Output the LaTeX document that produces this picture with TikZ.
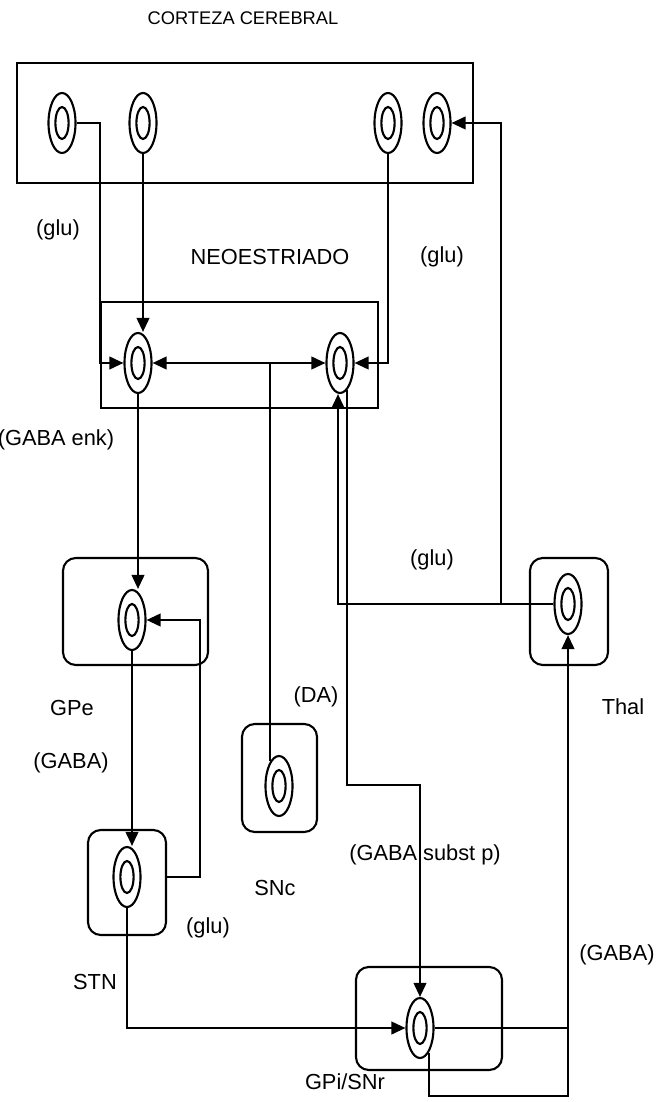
\documentclass[tikz,border=0pt]{standalone}
\usepackage{fontspec}
\setmainfont{Liberation Sans}
\usepackage{tikz}
\usetikzlibrary{positioning, arrows.meta, calc, shapes.geometric}
\tikzset{
  neurona/.style={ellipse, draw, line width=1.5pt, inner sep=0pt, minimum width=0.675cm, minimum height=1.5cm,
    path picture={\draw[line width=1.5pt] (path picture bounding box.center) ellipse (0.165cm and 0.4cm);}},
  nucleo/.style={draw, line width=1.5pt, rounded corners=0.32cm, inner sep=0pt},
  caja/.style={draw, line width=1.5pt, inner sep=0pt},
  linea/.style={line width=1.5pt},
  axon/.style={line width=1.5pt, -{Triangle[length=10pt,width=9pt]}},
  axondoble/.style={line width=1.5pt, {Triangle[length=10pt,width=9pt]}-{Triangle[length=10pt,width=9pt]}}
}

\begin{document}
\begin{tikzpicture}[x=0.025cm, y=-0.025cm, font=\fontsize{15.5}{18}\selectfont]
  \useasboundingbox (0,0) rectangle (664,1102);
  \node[caja, minimum width=11.4cm, minimum height=3cm] (ctx) at (245,123) {};
  \node[caja, minimum width=6.925cm, minimum height=2.65cm] (neo) at (239.5,355) {};
  \node[nucleo, minimum width=3.625cm, minimum height=2.675cm] (GPebox) at (135.5,611.5) {};
  \node[nucleo, minimum width=1.95cm, minimum height=2.625cm] (STNbox) at (127,882.5) {};
  \node[nucleo, minimum width=1.875cm, minimum height=2.7cm] (SNcbox) at (279.5,778) {};
  \node[nucleo, minimum width=1.95cm, minimum height=2.675cm] (Thalbox) at (569,611.5) {};
  \node[nucleo, minimum width=3.65cm, minimum height=2.575cm] (GPibox) at (429,1018.5) {};

  \node[neurona] (N1) at (62,123) {};
  \node[neurona] (N2) at (143,123) {};
  \node[neurona] (N3) at (388,123) {};
  \node[neurona] (N4) at (437,123) {};
  \node[neurona] (NL) at (138,363) {};
  \node[neurona] (NR) at (340,363) {};
  \node[neurona] (GPe) at (132,620) {};
  \node[neurona] (STN) at (127,877) {};
  \node[neurona] (SNc) at (279,786) {};
  \node[neurona] (Thal) at (568,604) {};
  \node[neurona] (GPi) at (420,1028) {};

  \node[font=\fontsize{13}{16}\selectfont] (titulo) at (243,18) {CORTEZA CEREBRAL};
  \node (gluA) at (58,230) {(glu)};
  \node (neoTxt) at (270,257) {NEOESTRIADO};
  \node (gluB) at (442,257) {(glu)};
  \node (enk) at (56,440) {(GABA enk)};
  \node (gluC) at (432,560) {(glu)};
  \node (gpeTxt) at (72,708) {GPe};
  \node (gabaA) at (71,763) {(GABA)};
  \node (daTxt) at (316,697) {(DA)};
  \node (thalTxt) at (623,707) {Thal};
  \node (sncTxt) at (275,888) {SNc};
  \node (subst) at (425,855) {(GABA subst p)};
  \node (gluD) at (208,928) {(glu)};
  \node (gabaB) at (617,955) {(GABA)};
  \node (stnTxt) at (95,982) {STN};
  \node (gpiTxt) at (345,1082) {GPi/SNr};

  \coordinate (jT) at (501,604);
  \coordinate (jS) at (420,785);
  \coordinate (fb) at (200,750);
  \coordinate (jB) at (568,1096);

  \draw[axon] (N1.east) -- (N1.east -| neo.west) |- (NL.west);
  \draw[axon] (N2.south) -- (N2.south |- NL.north);
  \draw[axon] (N3.south) |- (NR.east);
  \draw[axon] (Thal.west) -- (jT) |- (N4.east);
  \draw[axon] (jT) -| ($(NR.south)+(-2,0)$);
  \draw[axon] (NR.-75) |- (jS) -- (GPi.north);
  \draw[axondoble] (NL.east) -- (NR.west);
  \draw[linea] (SNc.110) -- (SNc.110 |- NL.east);
  \draw[axon] (NL.south) -- (NL.south |- GPe.north);
  \draw[axon] (GPe.south) -- (GPe.south |- STN.north);
  \draw[axon] (STNbox.east |- STN) -| (fb) |- (GPe.east);
  \draw[axon] (STN.south) |- (GPi.west);
  \draw[axon] (GPi.east) -| (Thal.south);
  \draw[linea] (GPi.-70) |- (jB) -- (jB |- GPi.east);
\end{tikzpicture}
\end{document}
